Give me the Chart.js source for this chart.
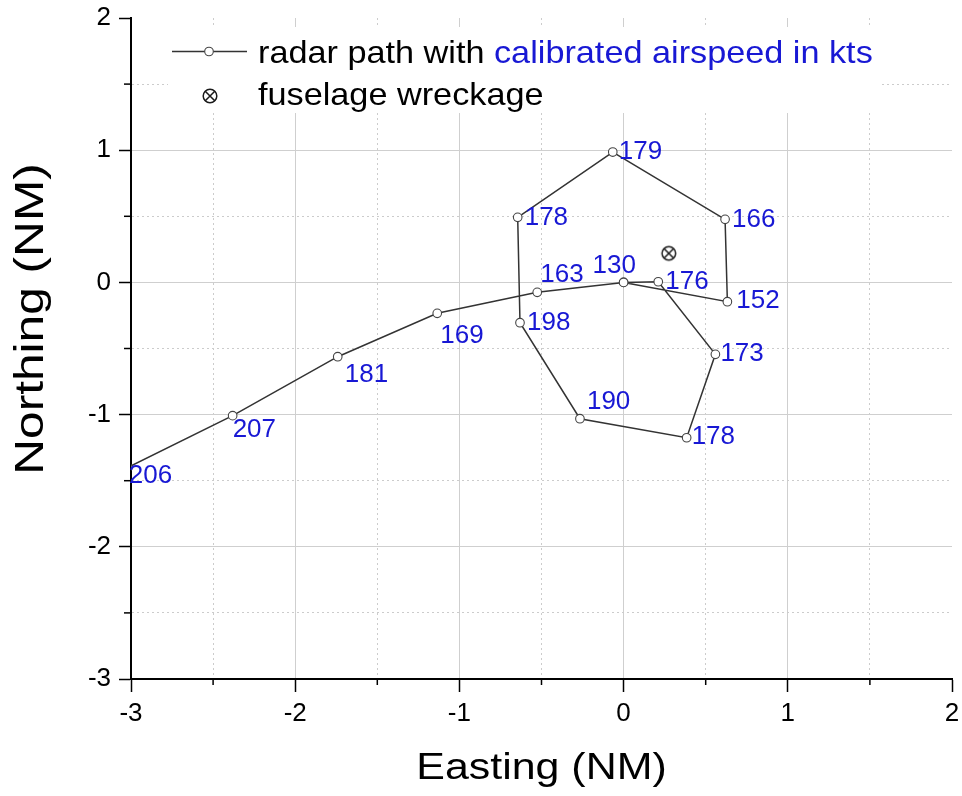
<!DOCTYPE html>
<html><head><meta charset="utf-8">
<script src="https://cdn.jsdelivr.net/npm/chart.js@4/dist/chart.umd.min.js"></script>
<style>html,body{margin:0;padding:0;background:#fff}#wrap{width:962px;height:796px}</style>
</head><body><div id="wrap"><canvas id="c" width="962" height="796"></canvas></div>
<script>
// ---- data ----
const speeds   = ['206','207','181','169','163','130','176','173','178','190','198','178','179','166','152',''];
const easting  = [-3.02,-2.381,-1.741,-1.135,-0.526,0.0,0.211,0.559,0.384,-0.266,-0.631,-0.645,-0.066,0.618,0.632,0.0];
const northing = [-1.40,-1.008,-0.562,-0.234,-0.075,0.0,0.005,-0.544,-1.175,-1.031,-0.305,0.492,0.986,0.477,-0.146,0.0];
const wreckEasting  = [0.275];
const wreckNorthing = [0.220];
const xTickLabels = [-3,-2,-1,0,1,2];
const yTickLabels = [-3,-2,-1,0,1,2];
const xTitle = 'Easting (NM)';
const yTitle = 'Northing (NM)';
const legendBlack = 'radar path with ';
const legendBlue  = 'calibrated airspeed in kts';
const legendWreck = 'fuselage wreckage';

// ---- styles ----
const FONT = '"Liberation Sans", Arial, sans-serif';
const BLUE = '#1818d4';
const labelOffsets = [[1,8],[0,14],[7,18],[3,22],[3,-17],[-31,-17],[7,0],[5,0],[5,-1],[7,-17],[7,0],[7,0],[6,0],[7,0],[9,-1],[0,0]];

Chart.defaults.font.family = FONT;

const wreckIcon = document.createElement('canvas');
wreckIcon.width = 18; wreckIcon.height = 18;
(function(){
  const g = wreckIcon.getContext('2d');
  g.strokeStyle = '#1a1a1a'; g.lineWidth = 1.5;
  g.beginPath(); g.arc(9,9,6.8,0,Math.PI*2); g.stroke();
  const d = 5;
  g.beginPath(); g.moveTo(9-d,9-d); g.lineTo(9+d,9+d); g.moveTo(9+d,9-d); g.lineTo(9-d,9+d); g.stroke();
})();

const isMajor = v => Math.abs(v - Math.round(v)) < 1e-9;
const gridColor = c => {
  if (!c.tick) return '#d0d0d0';
  const v = c.tick.value;
  if (Math.abs(v - 2) < 1e-9) return 'rgba(0,0,0,0)';
  return isMajor(v) ? '#cfcfcf' : '#cccccc';
};
const tickColor = c => (c.tick && isMajor(c.tick.value)) ? '#000' : 'rgba(0,0,0,0)';
const gridDash = c => (c.tick && !isMajor(c.tick.value)) ? [2,3] : [];

const minorTicks = {
  id: 'minorTicks',
  afterDraw(chart) {
    const {ctx, chartArea: a} = chart;
    ctx.save(); ctx.strokeStyle = '#000'; ctx.lineWidth = 1.5;
    chart.scales.x.ticks.forEach(t => {
      if (isMajor(t.value)) return;
      const px = chart.scales.x.getPixelForValue(t.value);
      ctx.beginPath(); ctx.moveTo(px, a.bottom); ctx.lineTo(px, a.bottom + 6); ctx.stroke();
    });
    chart.scales.y.ticks.forEach(t => {
      if (isMajor(t.value)) return;
      const py = chart.scales.y.getPixelForValue(t.value);
      ctx.beginPath(); ctx.moveTo(a.left, py); ctx.lineTo(a.left - 7, py); ctx.stroke();
    });
    ctx.restore();
  }
};

const axisTitles = {
  id: 'axisTitles',
  afterDraw(chart) {
    const {ctx, chartArea: a} = chart;
    ctx.save();
    ctx.fillStyle = '#000'; ctx.textAlign = 'center'; ctx.textBaseline = 'alphabetic';
    ctx.font = '37px ' + FONT;
    ctx.save();
    ctx.translate((a.left + a.right) / 2, 779);
    ctx.scale(1.16, 1);
    ctx.fillText(xTitle, 0, 0);
    ctx.restore();
    ctx.font = '40px ' + FONT;
    ctx.save();
    ctx.translate(43, 319);
    ctx.rotate(-Math.PI / 2);
    ctx.scale(1.24, 1);
    ctx.fillText(yTitle, 0, 0);
    ctx.restore();
    ctx.restore();
  }
};

const pointLabels = {
  id: 'pointLabels',
  afterDatasetsDraw(chart) {
    const ctx = chart.ctx;
    const meta = chart.getDatasetMeta(0);
    ctx.save();
    ctx.font = '26px ' + FONT; ctx.fillStyle = BLUE;
    ctx.textAlign = 'left'; ctx.textBaseline = 'middle';
    meta.data.forEach((el, i) => {
      if (!speeds[i]) return;
      const o = labelOffsets[i];
      ctx.fillText(speeds[i], el.x + o[0], el.y + o[1]);
    });
    ctx.restore();
  }
};

const customLegend = {
  id: 'customLegend',
  afterDraw(chart) {
    const ctx = chart.ctx;
    ctx.save();
    ctx.fillStyle = '#fff'; ctx.fillRect(168, 27, 712, 86);
    ctx.strokeStyle = '#333'; ctx.lineWidth = 1.5;
    ctx.beginPath(); ctx.moveTo(172, 51.5); ctx.lineTo(247, 51.5); ctx.stroke();
    ctx.beginPath(); ctx.arc(209, 51.5, 4.3, 0, Math.PI*2);
    ctx.fillStyle = '#fff'; ctx.fill(); ctx.strokeStyle = '#444'; ctx.lineWidth = 1.1; ctx.stroke();
    ctx.drawImage(wreckIcon, 210 - 9, 96 - 9);
    ctx.font = '32px ' + FONT; ctx.textBaseline = 'alphabetic'; ctx.textAlign = 'left';
    ctx.translate(258, 0); ctx.scale(1.07, 1);
    ctx.fillStyle = '#000'; ctx.fillText(legendBlack, 0, 62.5);
    const w = ctx.measureText(legendBlack).width;
    ctx.fillStyle = BLUE; ctx.fillText(legendBlue, w, 62.5);
    ctx.fillStyle = '#000'; ctx.fillText(legendWreck, 0, 104.5);
    ctx.restore();
  }
};

new Chart(document.getElementById('c'), {
  type: 'scatter',
  data: {
    datasets: [
      {
        label: 'radar path with calibrated airspeed in kts',
        data: easting.map((x, i) => ({x: x, y: northing[i]})),
        showLine: true,
        borderColor: '#333', borderWidth: 1.5,
        pointRadius: 4.3, pointHoverRadius: 4.3,
        pointBackgroundColor: '#fff', pointBorderColor: '#444', pointBorderWidth: 1.1
      },
      {
        label: 'fuselage wreckage',
        data: wreckEasting.map((x, i) => ({x: x, y: wreckNorthing[i]})),
        showLine: false,
        pointStyle: wreckIcon, pointRadius: 9, pointHoverRadius: 9
      }
    ]
  },
  options: {
    responsive: false, animation: false,
    layout: {padding: {top: 18, right: 10, left: 0, bottom: 0}},
    plugins: {legend: {display: false}, tooltip: {enabled: false}},
    scales: {
      x: {
        type: 'linear', min: -3, max: 2,
        ticks: {stepSize: 0.5, autoSkip: false, maxRotation: 0, color: '#000', padding: 6,
          font: {size: 26},
          callback: v => xTickLabels.includes(v) ? String(v) : ''},
        grid: {color: gridColor, lineWidth: 1, tickColor: tickColor, tickLength: 13, tickWidth: 1.5},
        border: {color: '#000', width: 2, dash: gridDash},
        title: {display: false, text: xTitle},
        afterFit: s => { s.height = 117; s.paddingLeft = 0; s.paddingRight = 0; }
      },
      y: {
        type: 'linear', min: -3, max: 2,
        ticks: {stepSize: 0.5, autoSkip: false, color: '#000', padding: 8,
          font: {size: 26},
          callback: v => yTickLabels.includes(v) ? String(v) : ''},
        grid: {color: gridColor, lineWidth: 1, tickColor: tickColor, tickLength: 12, tickWidth: 1.5},
        border: {color: '#000', width: 2, dash: gridDash},
        title: {display: false, text: yTitle},
        afterFit: s => { s.width = 131; s.paddingTop = 0; s.paddingBottom = 0; }
      }
    }
  },
  plugins: [minorTicks, pointLabels, customLegend, axisTitles]
});
</script>
</body></html>
